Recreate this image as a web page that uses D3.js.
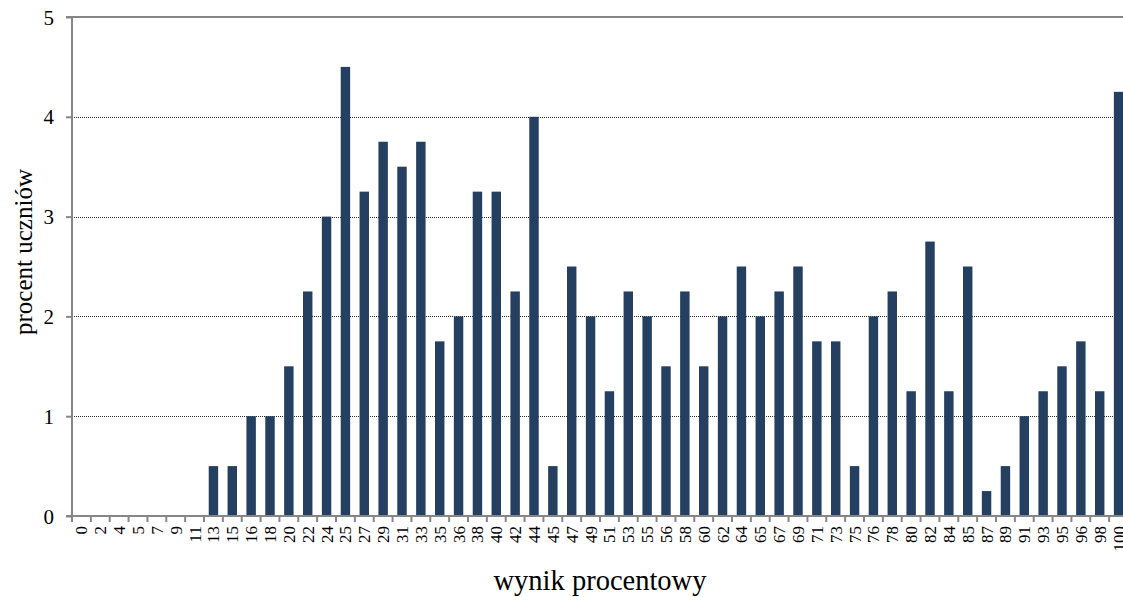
<!DOCTYPE html>
<html>
<head>
<meta charset="utf-8">
<script src="https://cdn.jsdelivr.net/npm/d3@7"></script>
<style>
html,body{margin:0;padding:0;background:#fff;}
svg{display:block;}
text{font-family:"Liberation Serif","Times New Roman",serif;fill:#000;}
</style>
</head>
<body>
<svg id="chart" width="1123" height="597"></svg>
<script>
const categories = ["0","2","4","5","7","9","11","13","15","16","18","20","22","24","25","27","29","31","33","35","36","38","40","42","44","45","47","49","51","53","55","56","58","60","62","64","65","67","69","71","73","75","76","78","80","82","84","85","87","89","91","93","95","96","98","100"];
const values = [0,0,0,0,0,0,0,0.5,0.5,1,1,1.5,2.25,3,4.5,3.25,3.75,3.5,3.75,1.75,2,3.25,3.25,2.25,4,0.5,2.5,2,1.25,2.25,2,1.5,2.25,1.5,2,2.5,2,2.25,2.5,1.75,1.75,0.5,2,2.25,1.25,2.75,1.25,2.5,0.25,0.5,1,1.25,1.5,1.75,1.25,4.25];
const yTicks = [0,1,2,3,4,5];
const xTitle = "wynik procentowy";
const yTitle = "procent uczniów";

(function () {
const svg = d3.select("#chart");
const pL = 72, pR = 1128, pT = 17, pB = 516;
const axisColor = "#868686";

const x = d3.scaleBand().domain(categories).range([pL, pR]).paddingInner(0).paddingOuter(0);
const y = d3.scaleLinear().domain([0, 5]).range([pB, pT]);

// gridlines
svg.append("g").selectAll("line").data(yTicks.filter(d => d > 0 && d < 5)).join("line")
  .attr("x1", pL).attr("x2", pR)
  .attr("y1", d => Math.round(y(d)) + 0.5).attr("y2", d => Math.round(y(d)) + 0.5)
  .attr("stroke", "#2a2a2a").attr("stroke-width", 1).attr("stroke-dasharray", "1,1");

// top border at 5
svg.append("line").attr("x1", pL - 6).attr("x2", pR).attr("y1", y(5)).attr("y2", y(5))
  .attr("stroke", axisColor).attr("stroke-width", 2);

// bars
const bw = x.bandwidth() * 0.5;
svg.append("g").selectAll("rect").data(categories.map((c, i) => ({c, v: values[i]})).filter(d => d.v > 0)).join("rect")
  .attr("x", d => x(d.c) + (x.bandwidth() - bw) / 2)
  .attr("width", bw)
  .attr("y", d => y(d.v))
  .attr("height", d => y(0) - y(d.v))
  .attr("fill", "#243F60");

// y axis
const yAxis = d3.axisLeft(y).tickValues(yTicks).tickSize(6).tickPadding(12).tickFormat(d3.format("d"));
const gy = svg.append("g").attr("transform", `translate(${pL},0)`).call(yAxis);
gy.select(".domain").attr("stroke", axisColor).attr("stroke-width", 2).attr("d", `M-6,${pB}H0V${pT}H-6`);
gy.selectAll(".tick line").attr("stroke", axisColor).attr("stroke-width", 2);
gy.selectAll(".tick text").style("font-size", "21px").style("font-family", "'Liberation Serif',serif").attr("fill", "#000").attr("dy", "0.34em");

// x axis
const xb = d3.scaleLinear().domain([0, categories.length]).range([pL, pR]);
const gx = svg.append("g").attr("transform", `translate(0,${pB})`);
gx.append("line").attr("x1", pL - 6).attr("x2", pR).attr("y1", 0).attr("y2", 0)
  .attr("stroke", axisColor).attr("stroke-width", 2);
gx.selectAll("line.tk").data(d3.range(categories.length + 1)).join("line").attr("class", "tk")
  .attr("x1", d => xb(d)).attr("x2", d => xb(d)).attr("y1", 0).attr("y2", 6)
  .attr("stroke", axisColor).attr("stroke-width", 2);
gx.selectAll("text").data(categories).join("text")
  .attr("transform", d => `translate(${x(d) + x.bandwidth() / 2 + 6},10) rotate(-90)`)
  .attr("text-anchor", "end")
  .style("font-size", "17px")
  .text(d => d);

// titles
svg.append("text").attr("x", (pL + pR) / 2).attr("y", 590).attr("text-anchor", "middle")
  .style("font-size", "28.5px").text(xTitle);
svg.append("text").attr("transform", `translate(32,252) rotate(-90)`).attr("text-anchor", "middle")
  .style("font-size", "25px").text(yTitle);
})();
</script>
</body>
</html>
